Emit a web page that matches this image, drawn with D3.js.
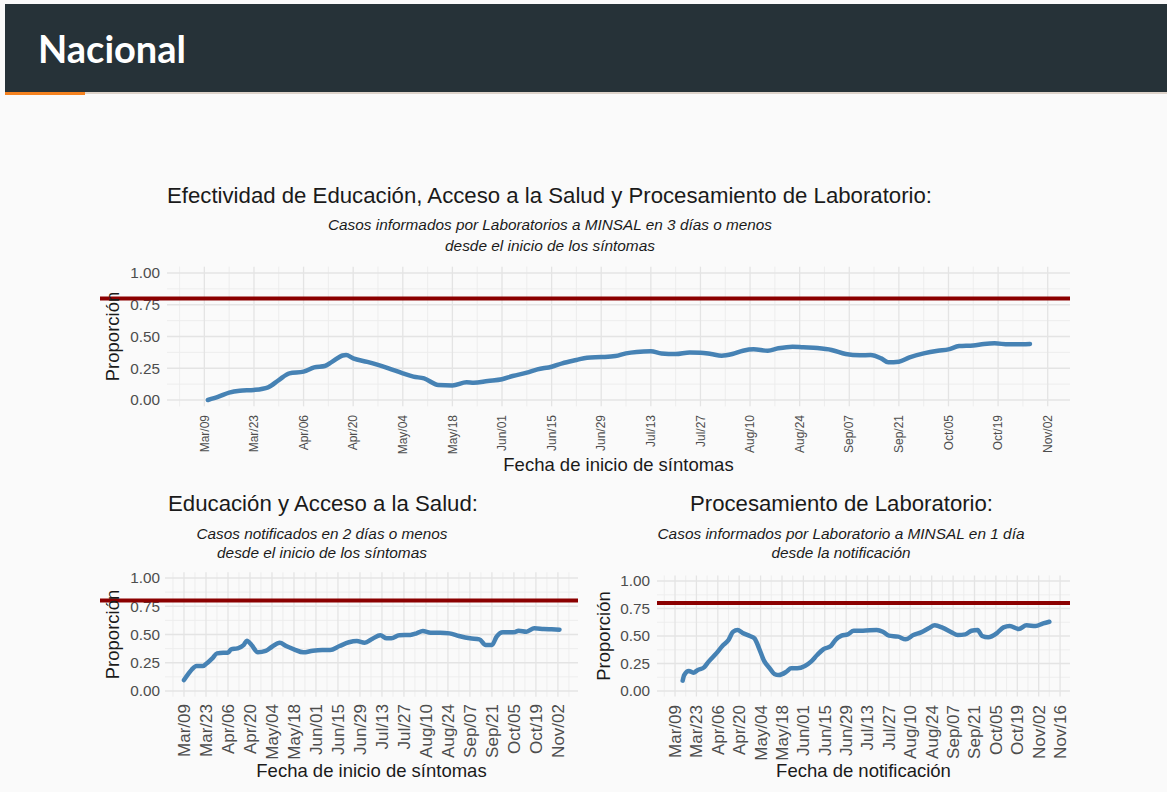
<!DOCTYPE html>
<html>
<head>
<meta charset="utf-8">
<script src="https://cdn.jsdelivr.net/npm/d3@7"></script>
<style>
  body { margin: 0; background: #fafafa; }
  svg { display: block; font-family: "Liberation Sans", Arial, sans-serif; }
</style>
</head>
<body>
<svg id="chart" width="1167" height="792"></svg>
<script>
// --- data ---
// Efectividad (fecha de inicio de síntomas)
var efectividadFechas = ["2020-03-10","2020-03-13","2020-03-16","2020-03-19","2020-03-23","2020-03-27","2020-03-30",
  "2020-04-02","2020-04-06","2020-04-09","2020-04-12","2020-04-14","2020-04-17","2020-04-18","2020-04-20","2020-04-24",
  "2020-04-27","2020-04-30","2020-05-04","2020-05-07","2020-05-10","2020-05-14","2020-05-18","2020-05-22","2020-05-24",
  "2020-05-28","2020-06-01","2020-06-04","2020-06-08","2020-06-11","2020-06-15","2020-06-18","2020-06-22","2020-06-25",
  "2020-06-29","2020-07-03","2020-07-06","2020-07-09","2020-07-13","2020-07-16","2020-07-20","2020-07-24","2020-07-27",
  "2020-07-30","2020-08-02","2020-08-05","2020-08-08","2020-08-11","2020-08-15","2020-08-18","2020-08-22","2020-08-25",
  "2020-08-29","2020-09-02","2020-09-06","2020-09-10","2020-09-13","2020-09-16","2020-09-18","2020-09-21","2020-09-24",
  "2020-09-28","2020-10-02","2020-10-05","2020-10-08","2020-10-12","2020-10-15","2020-10-18","2020-10-22","2020-10-24",
  "2020-10-28"];
var efectividadValores = [0.00,0.026,0.058,0.073,0.079,0.10,0.157,
  0.21,0.223,0.257,0.268,0.30,0.35,0.354,0.328,0.30,
  0.276,0.249,0.21,0.184,0.17,0.118,0.115,0.139,0.136,
  0.15,0.163,0.189,0.215,0.241,0.262,0.289,0.315,0.333,
  0.338,0.346,0.367,0.378,0.383,0.367,0.362,0.375,0.373,
  0.362,0.349,0.362,0.388,0.399,0.388,0.407,0.42,0.415,
  0.409,0.394,0.362,0.352,0.354,0.328,0.297,0.302,0.336,
  0.367,0.388,0.399,0.425,0.43,0.441,0.446,0.438,0.438,
  0.441];

// Educación y acceso (fecha de inicio de síntomas)
var educacionFechas = ["2020-03-09","2020-03-12","2020-03-14","2020-03-17","2020-03-21","2020-03-23","2020-03-27",
  "2020-03-30","2020-04-03","2020-04-06","2020-04-08","2020-04-12","2020-04-16","2020-04-18","2020-04-21","2020-04-25",
  "2020-04-30","2020-05-04","2020-05-09","2020-05-13","2020-05-18","2020-05-24","2020-05-30","2020-06-05","2020-06-10",
  "2020-06-16","2020-06-22","2020-06-27","2020-07-02","2020-07-07","2020-07-12","2020-07-16","2020-07-19","2020-07-24",
  "2020-07-31","2020-08-04","2020-08-08","2020-08-13","2020-08-19","2020-08-25","2020-08-31","2020-09-07","2020-09-13",
  "2020-09-17","2020-09-21","2020-09-24","2020-09-28","2020-10-05","2020-10-08","2020-10-13","2020-10-18","2020-10-24",
  "2020-10-29","2020-11-03"];
var educacionValores = [0.097,0.156,0.19,0.221,0.221,0.239,0.289,
  0.333,0.339,0.339,0.369,0.378,0.407,0.445,0.407,0.342,
  0.354,0.392,0.428,0.398,0.369,0.342,0.357,0.363,0.363,
  0.398,0.431,0.442,0.428,0.463,0.493,0.466,0.466,0.493,
  0.496,0.51,0.531,0.516,0.516,0.51,0.487,0.466,0.457,
  0.407,0.407,0.481,0.519,0.519,0.534,0.525,0.555,0.549,
  0.546,0.543];

// Procesamiento de laboratorio (fecha de notificación)
var laboratorioFechas = ["2020-03-14","2020-03-15","2020-03-18","2020-03-21","2020-03-24","2020-03-28","2020-03-31",
  "2020-04-05","2020-04-09","2020-04-13","2020-04-16","2020-04-19","2020-04-22","2020-04-27","2020-04-30","2020-05-03",
  "2020-05-06","2020-05-10","2020-05-13","2020-05-16","2020-05-21","2020-05-24","2020-05-28","2020-06-02","2020-06-06",
  "2020-06-10","2020-06-14","2020-06-19","2020-06-22","2020-06-26","2020-06-30","2020-07-04","2020-07-10","2020-07-19",
  "2020-07-23","2020-07-27","2020-08-02","2020-08-07","2020-08-12","2020-08-17","2020-08-22","2020-08-26","2020-08-31",
  "2020-09-06","2020-09-10","2020-09-15","2020-09-19","2020-09-23","2020-09-26","2020-09-30","2020-10-06","2020-10-10",
  "2020-10-14","2020-10-20","2020-10-25","2020-10-31","2020-11-05","2020-11-09"];
var laboratorioValores = [0.094,0.145,0.182,0.167,0.191,0.215,0.267,
  0.342,0.409,0.464,0.539,0.555,0.53,0.50,0.479,0.388,
  0.282,0.206,0.155,0.145,0.176,0.206,0.206,0.227,0.267,
  0.327,0.379,0.409,0.464,0.503,0.515,0.548,0.548,0.555,
  0.539,0.503,0.494,0.47,0.509,0.533,0.57,0.597,0.576,
  0.533,0.509,0.515,0.548,0.555,0.50,0.488,0.53,0.579,
  0.591,0.564,0.597,0.591,0.615,0.63];

var ticksSintomas = ["Mar/09","Mar/23","Apr/06","Apr/20","May/04","May/18","Jun/01","Jun/15","Jun/29",
  "Jul/13","Jul/27","Aug/10","Aug/24","Sep/07","Sep/21","Oct/05","Oct/19","Nov/02"];
var ticksNotificacion = ticksSintomas.concat(["Nov/16"]);
var yTicks = [0, 0.25, 0.5, 0.75, 1];
var yMinor = [0.125, 0.375, 0.625, 0.875];
var meta = 0.8;

// --- helpers ---
var parseDate = d3.timeParse("%Y-%m-%d");
var parseDateTime = d3.timeParse("%Y-%m-%dT%H:%M");
var meses = {Mar: 2, Apr: 3, May: 4, Jun: 5, Jul: 6, Aug: 7, Sep: 8, Oct: 9, Nov: 10};
function tickDate(lbl) {
  var p = lbl.split("/");
  return new Date(2020, meses[p[0]], +p[1]);
}
var fmt = d3.format(".2f");

var svg = d3.select("#chart");

// header band
svg.append("rect").attr("x", 0).attr("y", 0).attr("width", 1167).attr("height", 792).attr("fill", "#fafafa");
svg.append("rect").attr("x", 5).attr("y", 4).attr("width", 1162).attr("height", 88).attr("fill", "#263238");
svg.append("rect").attr("x", 85).attr("y", 92).attr("width", 1082).attr("height", 2).attr("fill", "#ddd3ca");
svg.append("rect").attr("x", 5).attr("y", 92).attr("width", 80).attr("height", 3).attr("fill", "#f5821f");
svg.append("text").attr("x", 38).attr("y", 63)
  .style("font-family", "Lato, 'Open Sans', sans-serif")
  .style("font-weight", 700).style("font-size", "38px").attr("fill", "#ffffff")
  .text("Nacional");

var panels = [
  {
    title: "Efectividad de Educación, Acceso a la Salud y Procesamiento de Laboratorio:",
    subtitle: ["Casos informados por Laboratorios a MINSAL en 3 días o menos", "desde el inicio de los síntomas"],
    xTitle: "Fecha de inicio de síntomas",
    fechas: efectividadFechas, valores: efectividadValores, ticks: ticksSintomas,
    left: 167, right: 1070, zero: 400, one: 273,
    domain: ["2020-02-27T11:00", "2020-11-08T07:00"],
    redStart: 100, tickFont: 12, tickTop: 415,
    titleX: 167, titleY: 203, titleW: 765,
    subX: 550, subY: [230, 251], subW: [444, 210],
    xTitleY: 471, yTitleX: 113, yLabelX: 160
  },
  {
    title: "Educación y Acceso a la Salud:",
    subtitle: ["Casos notificados en 2 días o menos", "desde el inicio de los síntomas"],
    xTitle: "Fecha de inicio de síntomas",
    fechas: educacionFechas, valores: educacionValores, ticks: ticksSintomas,
    left: 165, right: 578, zero: 691, one: 578,
    domain: ["2020-02-25T22:00", "2020-11-14T19:00"],
    redStart: 100, tickFont: 17, tickTop: 704,
    titleX: 168, titleY: 511, titleW: 310,
    subX: 322, subY: [539, 558], subW: [251, 210],
    xTitleY: 777, yTitleX: 113, yLabelX: 160
  },
  {
    title: "Procesamiento de Laboratorio:",
    subtitle: ["Casos informados por Laboratorio a MINSAL en 1 día", "desde la notificación"],
    xTitle: "Fecha de notificación",
    fechas: laboratorioFechas, valores: laboratorioValores, ticks: ticksNotificacion,
    left: 657, right: 1070, zero: 691, one: 581,
    domain: ["2020-02-26T05:00", "2020-11-22T12:00"],
    redStart: 657, tickFont: 17, tickTop: 705,
    titleX: 690, titleY: 511, titleW: 303,
    subX: 841, subY: [539, 558], subW: [367, 139],
    xTitleY: 777, yTitleX: 604, yLabelX: 650
  }
];

panels.forEach(function(p) {
  var unit = p.zero - p.one;
  var top = p.one - 0.05 * unit, bottom = p.zero + 0.05 * unit;

  var x = d3.scaleTime()
    .domain(p.domain.map(parseDateTime))
    .range([p.left, p.right]);
  var y = d3.scaleLinear().domain([0, 1]).range([p.zero, p.one]);

  var g = svg.append("g");

  // grid: minor then major
  var mondays = d3.timeMonday.range(x.domain()[0], x.domain()[1]);
  var majors = p.ticks.map(tickDate);
  var majorSet = new Set(majors.map(function(d) { return +d; }));

  g.selectAll(".vminor").data(mondays.filter(function(d) { return !majorSet.has(+d); }))
    .enter().append("line")
    .attr("x1", function(d) { return x(d); }).attr("x2", function(d) { return x(d); })
    .attr("y1", top).attr("y2", bottom)
    .attr("stroke", "#ececec").attr("stroke-width", 0.9);
  g.selectAll(".hminor").data(yMinor).enter().append("line")
    .attr("x1", p.left).attr("x2", p.right)
    .attr("y1", function(d) { return y(d); }).attr("y2", function(d) { return y(d); })
    .attr("stroke", "#ececec").attr("stroke-width", 0.9);
  g.selectAll(".vmajor").data(majors).enter().append("line")
    .attr("x1", function(d) { return x(d); }).attr("x2", function(d) { return x(d); })
    .attr("y1", top).attr("y2", bottom)
    .attr("stroke", "#e4e4e4").attr("stroke-width", 1.3);
  g.selectAll(".hmajor").data(yTicks).enter().append("line")
    .attr("x1", p.left).attr("x2", p.right)
    .attr("y1", function(d) { return y(d); }).attr("y2", function(d) { return y(d); })
    .attr("stroke", "#e4e4e4").attr("stroke-width", 1.3);

  // y tick labels
  g.selectAll(".ylab").data(yTicks).enter().append("text")
    .attr("x", p.yLabelX).attr("y", function(d) { return y(d); })
    .attr("dy", "0.35em").attr("text-anchor", "end")
    .style("font-size", "15.3px").attr("fill", "#4d4d4d")
    .text(function(d) { return fmt(d); });

  // x tick labels (rotated)
  g.selectAll(".xlab").data(p.ticks).enter().append("text")
    .attr("transform", function(d) { return "translate(" + x(tickDate(d)) + "," + p.tickTop + ") rotate(-90)"; })
    .attr("dy", "0.35em").attr("text-anchor", "end")
    .style("font-size", p.tickFont + "px").attr("fill", "#4d4d4d")
    .text(function(d) { return d; });

  // series line
  var pts = p.fechas.map(function(f, i) { return {fecha: parseDate(f), valor: p.valores[i]}; });
  var line = d3.line()
    .x(function(d) { return x(d.fecha); })
    .y(function(d) { return y(d.valor); })
    .curve(d3.curveMonotoneX);
  g.append("path").datum(pts)
    .attr("d", line)
    .attr("fill", "none").attr("stroke", "#4682b4")
    .attr("stroke-width", 4.5).attr("stroke-linejoin", "round").attr("stroke-linecap", "round");

  // meta line
  g.append("line")
    .attr("x1", p.redStart).attr("x2", p.right)
    .attr("y1", y(meta)).attr("y2", y(meta))
    .attr("stroke", "#8b0000").attr("stroke-width", 4);

  // axis titles
  g.append("text")
    .attr("transform", "translate(" + p.yTitleX + "," + ((p.zero + p.one) / 2) + ") rotate(-90)")
    .attr("dy", "0.35em").attr("text-anchor", "middle")
    .style("font-size", "18.5px").attr("fill", "#1a1a1a")
    .text("Proporción");
  g.append("text")
    .attr("x", (p.left + p.right) / 2).attr("y", p.xTitleY)
    .attr("text-anchor", "middle")
    .style("font-size", "18.5px").attr("fill", "#1a1a1a")
    .text(p.xTitle);

  // title + subtitle
  g.append("text")
    .attr("x", p.titleX).attr("y", p.titleY)
    .attr("textLength", p.titleW).attr("lengthAdjust", "spacingAndGlyphs")
    .style("font-size", "21.5px").attr("fill", "#1a1a1a")
    .text(p.title);
  p.subtitle.forEach(function(s, i) {
    g.append("text")
      .attr("x", p.subX).attr("y", p.subY[i])
      .attr("text-anchor", "middle")
      .attr("textLength", p.subW[i]).attr("lengthAdjust", "spacingAndGlyphs")
      .style("font-size", "15px").style("font-style", "italic").attr("fill", "#1a1a1a")
      .text(s);
  });
});
</script>
</body>
</html>
